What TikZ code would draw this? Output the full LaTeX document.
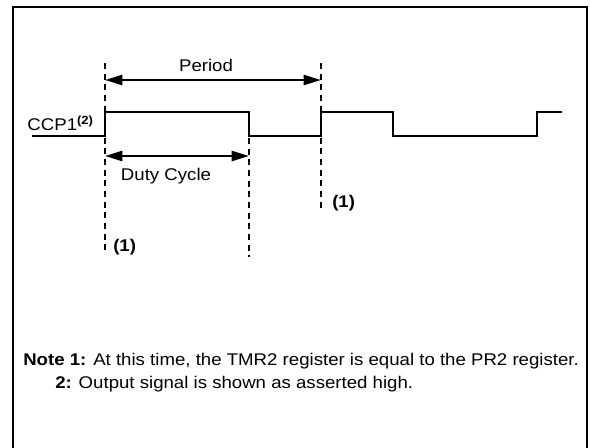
\documentclass[tikz,border=0pt]{standalone}
\usepackage{fontspec}
\setmainfont{Liberation Sans}[FakeStretch=1.1]
\usetikzlibrary{arrows.meta}

\begin{document}
\begin{tikzpicture}[x=0.75pt,y=-0.75pt,
  frame/.style={line width=1.8pt},
  sig/.style={line width=2pt},
  tmark/.style={line width=1.5pt,dash pattern=on 4.5pt off 3.5pt},
  dim/.style={{Triangle[length=13pt,width=7.5pt]}-{Triangle[length=13pt,width=7.5pt]},line width=1.9pt},
  lbl/.style={font=\fontsize{12.7}{15}\selectfont,inner sep=0pt},
  ref/.style={font=\fontsize{12.7}{15}\selectfont\bfseries,inner sep=0pt,anchor=west}]
\useasboundingbox (0,0) rectangle (590,447);
\draw[frame] (13,448) -- (13,7) -- (587,7) -- (587,448);
% timing marks
\coordinate (a0) at (105,63);  \coordinate (a1) at (105,254);
\coordinate (b0) at (249,138); \coordinate (b1) at (249,257);
\coordinate (c0) at (321,63);  \coordinate (c1) at (321,208);
\draw[tmark] (a0) -- (a1);
\draw[tmark] (b0) -- (b1);
\draw[tmark] (c0) -- (c1);
% waveform
\draw[sig] (32,136) -- (105,136) -- (105,112) -- (249,112) -- (249,136) -- (321,136)
  -- (321,112) -- (393,112) -- (393,136) -- (537,136) -- (537,112) -- (562,112);
\node[lbl,anchor=base east] (ccp) at (94,130) {CCP1\textsuperscript{\bfseries(2)}};
% period and duty cycle
\coordinate (p0) at (105,80);  \coordinate (p1) at (321,80);
\coordinate (d0) at (105,156); \coordinate (d1) at (249,156);
\draw[dim] (p0) -- (p1);
\draw[dim] (d0) -- (d1);
\node[lbl,anchor=base] (period) at (206,71) {Period};
\node[lbl,anchor=base] (duty) at (166,180) {Duty Cycle};
\node[ref] (ref1) at (113,247) {(1)};
\node[ref] (ref2) at (332,203) {(1)};
% notes
\node[lbl,anchor=base west] (note1) at (23,365)
 {\textbf{Note 1:} At this time, the TMR2 register is equal to the PR2 register.};
\node[lbl,anchor=base west] (note2) at (55,388)
 {\textbf{2:} Output signal is shown as asserted high.};
\end{tikzpicture}
\end{document}
